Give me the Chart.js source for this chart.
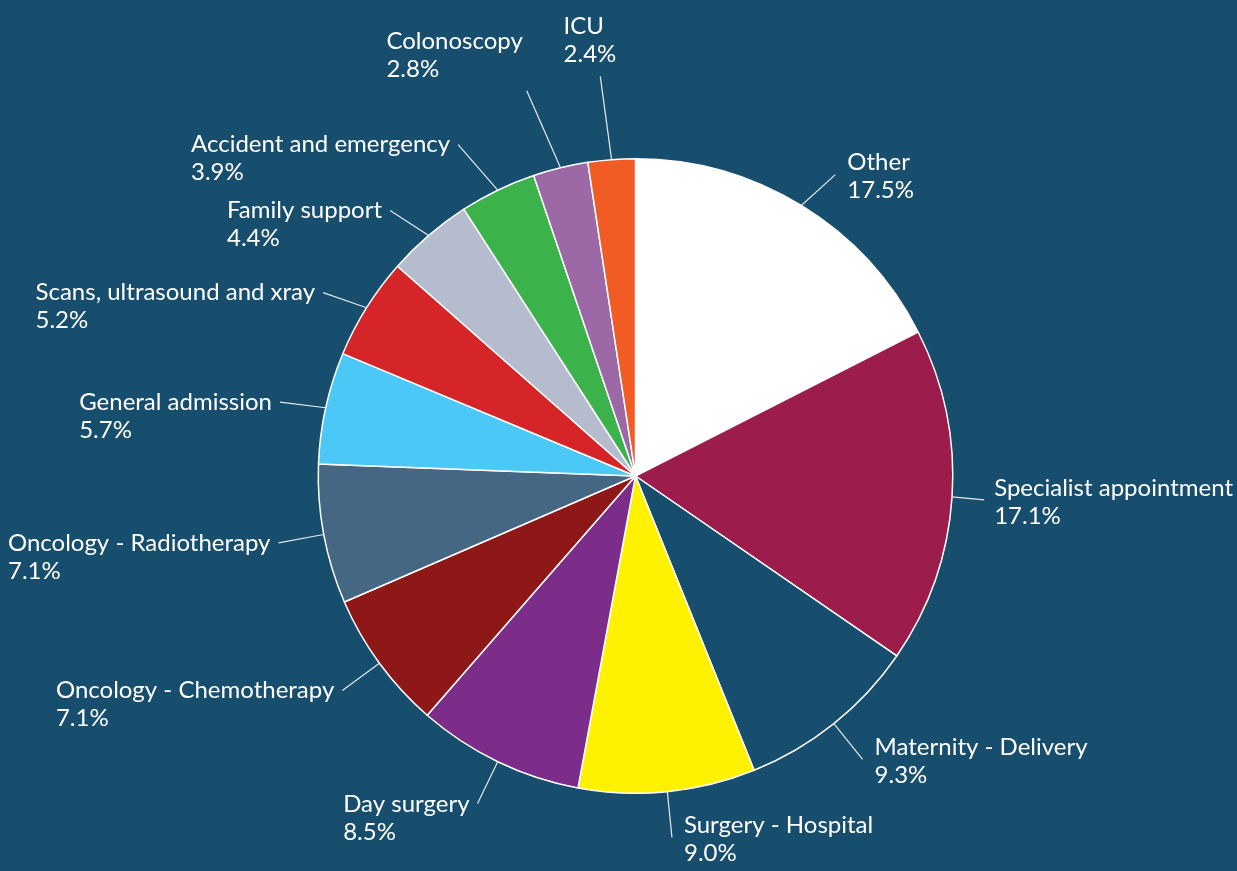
<!DOCTYPE html>
<html>
<head>
<meta charset="utf-8">
<script src="https://cdn.jsdelivr.net/npm/chart.js@4"></script>
<style>
  html, body { margin: 0; padding: 0; background: #174e6e; overflow: hidden; }
  canvas { display: block; }
</style>
</head>
<body>
<canvas id="pieChart" width="1237" height="871"></canvas>
<script>
// Slices, clockwise from 12 o'clock
const LABELS = [
  'Other', 'Specialist appointment', 'Maternity - Delivery', 'Surgery - Hospital',
  'Day surgery', 'Oncology - Chemotherapy', 'Oncology - Radiotherapy', 'General admission',
  'Scans, ultrasound and xray', 'Family support', 'Accident and emergency', 'Colonoscopy', 'ICU',
];
const SHARES = [17.5, 17.1, 9.3, 9.0, 8.5, 7.1, 7.1, 5.7, 5.2, 4.4, 3.9, 2.8, 2.4];
const COLORS = [
  '#ffffff', '#9c1c4b', '#174e6e', '#fff200', '#7c2d8a', '#8e1718', '#466783',
  '#4bc8f5', '#d52528', '#b5bccd', '#3cb34a', '#9c68a6', '#f15b24',
];

const FONT = '24px Lato';
const LINE_H = 28;

// Labels outside the pie with a thin connector line
const outsideLabels = {
  id: 'outsideLabels',
  afterDatasetsDraw(chart) {
    const ctx = chart.ctx;
    const W = chart.width, H = chart.height;
    const meta = chart.getDatasetMeta(0);
    ctx.save();
    ctx.font = FONT;

    const items = meta.data.map((arc, i) => {
      const p = arc.getProps(['x', 'y', 'startAngle', 'endAngle', 'outerRadius'], true);
      const mid = (p.startAngle + p.endAngle) / 2;
      const ux = Math.cos(mid), uy = Math.sin(mid);
      // upper connectors lean towards the horizontal
      const lean = uy < 0 ? 1.8 : 1;
      const n = Math.hypot(ux * lean, uy);
      const lines = [LABELS[i], SHARES[i].toFixed(1) + '%'];
      const w = Math.max(...lines.map(t => ctx.measureText(t).width));
      return {
        p, mid, ux, uy, dx: ux * lean / n, dy: uy / n,
        sx: p.x + ux * p.outerRadius, sy: p.y + uy * p.outerRadius,
        lines, w, h: LINE_H * lines.length,
      };
    });

    const layout = (it, extra) => {
      const s = it.ux < 0 ? Math.min(1, Math.max(0, (Math.abs(it.uy) - 0.9) / 0.07)) : 0;
      const d = 46 + 38 * s + extra;
      let ax = it.sx + it.dx * d, ay = it.sy + it.dy * d;
      let left, top;
      if (it.ux >= 0) {
        left = ax + 12;
        top = ay + 2 - it.h / 2;
        if (left + it.w > W - 4) { left = W - 4 - it.w; ax = left - 10; }
      } else {
        const t = Math.min(1, -it.ux * 4);
        const cx = ax - t * (it.w / 2 + 8);
        const cy = ay + (1 - s) * 14 + Math.sign(it.uy) * s * (it.h / 2 + 8);
        left = cx - it.w / 2;
        top = cy - it.h / 2;
      }
      top = Math.max(0, Math.min(H - it.h, top));
      return { ax, ay, left, top };
    };

    const hits = (a, b) => a.left < b.left + b.w + 8 && b.left < a.left + a.w + 8 &&
                           a.top < b.top + b.h + 10 && b.top < a.top + a.h + 10;

    const placed = [];
    const order = items.map((it, i) => i).sort((a, b) => items[a].mid - items[b].mid);
    order.forEach(i => {
      const it = items[i];
      let extra = 0, box = layout(it, extra);
      while (extra < 180 && placed.some(o => hits({ ...box, w: it.w, h: it.h }, o))) {
        extra += 2;
        box = layout(it, extra);
      }
      Object.assign(it, box);
      placed.push({ left: box.left, top: box.top, w: it.w, h: it.h });
    });

    items.forEach(it => {
      ctx.strokeStyle = '#e4e9ee';
      ctx.lineWidth = 1.2;
      ctx.beginPath();
      ctx.moveTo(it.sx, it.sy);
      ctx.lineTo(it.ax, it.ay);
      ctx.stroke();

      ctx.fillStyle = '#ffffff';
      ctx.textAlign = 'left';
      ctx.textBaseline = 'middle';
      it.lines.forEach((t, k) => ctx.fillText(t, it.left, it.top + LINE_H * (k + 0.5)));
    });
    ctx.restore();
  }
};

new Chart(document.getElementById('pieChart'), {
  type: 'pie',
  data: {
    labels: LABELS,
    datasets: [{
      data: SHARES,
      backgroundColor: COLORS,
      borderColor: '#ffffff',
      borderWidth: 1.5,
    }]
  },
  options: {
    responsive: false,
    animation: false,
    layout: { padding: { top: 158, bottom: 77, left: 317, right: 283 } },
    plugins: {
      legend: { display: false },
      tooltip: { enabled: false },
    }
  },
  plugins: [outsideLabels]
});
</script>
</body>
</html>
